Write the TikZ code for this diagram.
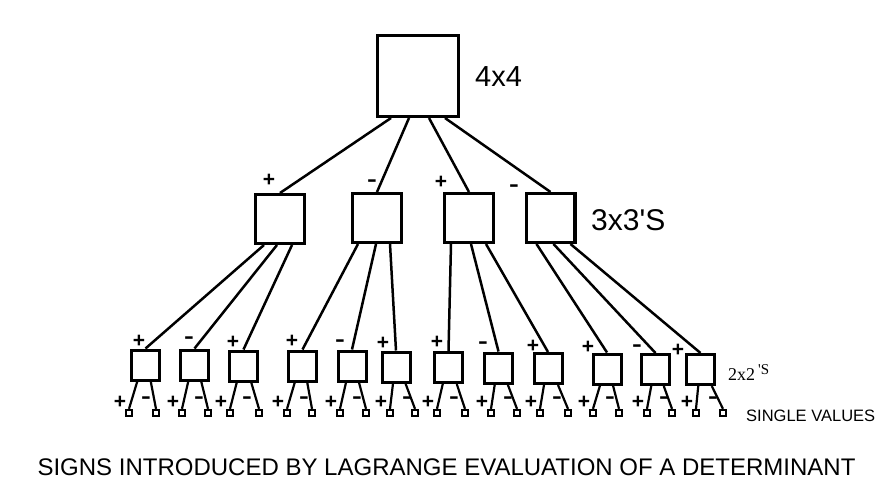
\documentclass[tikz,border=0pt]{standalone}
\usepackage{fontspec}
\setmainfont{Liberation Sans}
\newfontfamily\serifnum{Liberation Serif}
\usetikzlibrary{calc}

\newcommand\signplus{+}
\newcommand\signminus{\scalebox{1.4}[1]{-}}

\tikzset{
  box/.style={draw, inner sep=0pt},
  bigbox/.style={box, line width=3.4pt, minimum size=80.6pt},
  midbox/.style={box, line width=3.4pt, minimum size=48.6pt},
  minbox/.style={box, line width=3pt, minimum width=28pt, minimum height=30pt},
  tinybox/.style={box, line width=2.3pt, minimum size=6pt},
  sign/.style={inner sep=0pt, font=\fontsize{21}{21}\selectfont\bfseries},
  tag/.style={inner sep=0pt, anchor=west},
  link/.style={line width=2.5pt},
  thinlink/.style={line width=2.2pt},
}

\begin{document}
\begin{tikzpicture}[x=1pt,y=-1pt]
\useasboundingbox (0,0) rectangle (892,501);

% the 4x4 determinant
\node[bigbox] (det4) at (418,76) {};
\node[tag, font=\fontsize{29}{29}\selectfont] (tag44) at (475,77) {4x4};

% its four 3x3 minors
\foreach \i/\x/\y/\dx/\s/\sx/\sy in {1/280/219/-27/\signplus/269/180, 2/377/218/-9/\signminus/372/183,
    3/469/218/11/\signplus/441/182, 4/550.5/218/27/\signminus/514/188} {
  \node[midbox] (m3\i) at (\x,\y) {};
  \node[sign] (g3\i) at (\sx,\sy) {\s};
  \draw[link] ($(det4.south)+(\dx,0)$) -- (m3\i.north);
}
\node[tag, font=\fontsize{30}{30}\selectfont] (tag33) at (591,220) {3x3\textquotesingle S};

% the twelve 2x2 minors, each with two single values
\foreach \n/\x/\y/\p/\dx/\s/\sx/\sy/\lx/\rx in {
    1/145.5/365/1/-16/\signplus/139/341/129/156, 2/194.5/365/1/-3/\signminus/189/340/182/208,
    3/243.5/366/1/12/\signplus/233/342/230/259, 4/302.5/366/2/-19/\signplus/292/341/287/312,
    5/352/366/2/-1/\signminus/340/343/340/366, 6/396/367/2/13/\signplus/383/343/390/415,
    7/448.5/367.5/3/-18/\signplus/437/342/437/465, 8/498.5/368/3/2/\signminus/483/345/491/517,
    9/548/368.5/3/17/\signplus/533/346/540/568, 10/607/369/4/-14/\signplus/588/347/593/619,
    11/655.5/369.5/4/3/\signminus/637/348/647/672, 12/700.5/369.5/4/20/\signplus/678/350/696/723} {
  \node[minbox] (m2\n) at (\x,\y) {};
  \node[sign] (g2\n) at (\sx,\sy) {\s};
  \draw[link] ($(m3\p.south)+(\dx,0)$) -- (m2\n.north);
  \node[tinybox] (vl\n) at (\lx,413) {};
  \node[tinybox] (vr\n) at (\rx,413) {};
  \node[sign] (gp\n) at (\lx-9,402) {\signplus};
  \node[sign] (gm\n) at (\lx+17,400) {\signminus};
  \draw[thinlink] ($(m2\n.south)!.5!(m2\n.south -| vl\n.north)$) -- (vl\n.north);
  \draw[thinlink] ($(m2\n.south)!.5!(m2\n.south -| vr\n.north)$) -- (vr\n.north);
}
\node[tag] (tag22) at (728,373) {\fontsize{18}{18}\selectfont\serifnum 2x2\,\raisebox{6pt}{\fontsize{15}{15}\selectfont\textquotesingle S}};
\node[tag, font=\fontsize{16.5}{16.5}\selectfont] (tag11) at (746,416) {SINGLE VALUES};

% caption
\node[inner sep=0pt, font=\fontsize{24}{24}\selectfont] (caption) at (446.5,467)
  {SIGNS INTRODUCED BY LAGRANGE EVALUATION OF A DETERMINANT};
\end{tikzpicture}
\end{document}
